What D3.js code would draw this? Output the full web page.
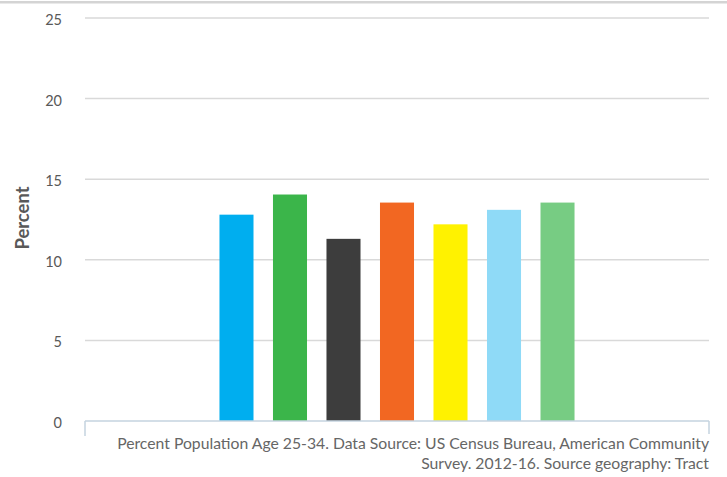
<!DOCTYPE html>
<html><head><meta charset="utf-8">
<script src="https://cdn.jsdelivr.net/npm/d3@7"></script>
<style>body{margin:0;background:#fff;} svg{display:block;}</style>
</head><body>
<svg id="chart" width="727" height="477"></svg>
<script>
const category = ["Percent Population Age 25-34"];
const series = ["S1","S2","S3","S4","S5","S6","S7"];
const values = [12.8, 14.05, 11.3, 13.55, 12.2, 13.1, 13.55];
const colors = ["#00aeef","#3bb54a","#3d3d3d","#f26722","#fff200","#8fdaf7","#77cc83"];
const yTicks = [0,5,10,15,20,25];
const captionLines = ["Percent Population Age 25-34. Data Source: US Census Bureau, American Community","Survey. 2012-16. Source geography: Tract"];
const yTitle = "Percent";

const svg = d3.select("#chart");
const m = {left:85, right:18, top:18, bottom:56};
const W = 727, H = 477;
const font = "Lato, 'Open Sans', sans-serif";

function fitWidth(sel, target){
  let fs = +sel.attr("font-size");
  for(let k=0;k<4;k++){ const w = sel.node().getComputedTextLength(); fs = fs*target/w; sel.attr("font-size", fs); }
}

svg.append("rect").attr("x",0).attr("y",1).attr("width",W).attr("height",2.5).attr("fill","#d4d4d4");

const y = d3.scaleLinear().domain([0,25]).range([H-m.bottom, m.top]);
const x0 = d3.scaleBand().domain(category).range([m.left, W-m.right]).paddingInner(0.2747).paddingOuter(0.2747);
const x1 = d3.scaleBand().domain(series).range([0, x0.bandwidth()]).paddingInner(0.364).paddingOuter(0);

// gridlines
svg.append("g").selectAll("line").data(yTicks.filter(d=>d>0)).join("line")
  .attr("x1", m.left).attr("x2", W-m.right)
  .attr("y1", d=>y(d)).attr("y2", d=>y(d))
  .attr("stroke","#d9d9d9").attr("stroke-width",1.5);

// y tick labels
svg.append("g").selectAll("text").data(yTicks).join("text")
  .attr("x", 62).attr("y", d=>y(d)+2).attr("dy","0.35em")
  .attr("text-anchor","end").attr("font-family",font).attr("font-size",14.5)
  .attr("fill","#595959").text(d=>d);

// bars
svg.append("g").selectAll("rect").data(values).join("rect")
  .attr("x",(d,i)=>x0(category[0]) + x1(series[i]))
  .attr("width", x1.bandwidth())
  .attr("y", d=>y(d)).attr("height", d=>y(0)-y(d))
  .attr("fill",(d,i)=>colors[i]);

// x axis baseline with end ticks
const ax = svg.append("g").attr("stroke","#c5d3df").attr("stroke-width",1.5).attr("fill","none");
ax.append("line").attr("x1",m.left).attr("x2",W-m.right).attr("y1",y(0)).attr("y2",y(0));
ax.append("line").attr("x1",m.left).attr("x2",m.left).attr("y1",y(0)).attr("y2",y(0)+15);
ax.append("line").attr("x1",W-m.right).attr("x2",W-m.right).attr("y1",y(0)).attr("y2",y(0)+13);

// caption
const cap = svg.append("g").selectAll("text").data(captionLines).join("text")
  .attr("x", W-m.right).attr("y",(d,i)=>449+i*20)
  .attr("text-anchor","end").attr("font-family",font).attr("font-size",15.5)
  .attr("fill","#666").text(d=>d);
fitWidth(d3.select(cap.nodes()[0]), 592);
d3.select(cap.nodes()[1]).attr("font-size", d3.select(cap.nodes()[0]).attr("font-size"));

// y title
const yt = svg.append("text").attr("transform",`translate(29,218) rotate(-90)`)
  .attr("text-anchor","middle").attr("font-family",font).attr("font-size",17).attr("font-weight","bold")
  .attr("fill","#595959").text(yTitle);
fitWidth(yt, 63);
</script>
</body></html>
